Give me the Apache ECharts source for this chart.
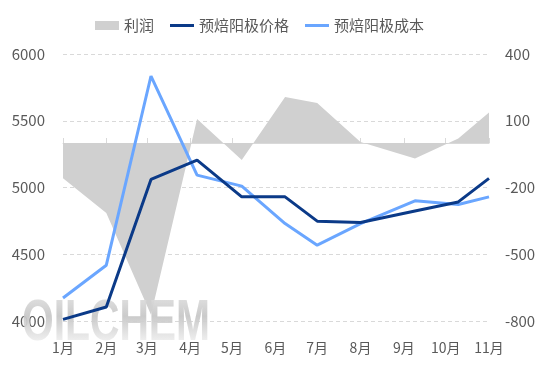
<!DOCTYPE html>
<html><head><meta charset="utf-8">
<script src="https://cdn.jsdelivr.net/npm/echarts@6/dist/echarts.min.js"></script>
<style>html,body{margin:0;padding:0;background:#fff}#c{width:554px;height:369px}</style>
</head><body><div id="c"></div>
<script>
const dates = ['2024-01-01','2024-02-01','2024-03-04','2024-04-06','2024-05-08','2024-06-08','2024-07-01','2024-08-01','2024-09-09','2024-10-10','2024-11-01'];
const price = [4012, 4105, 5060, 5205, 4930, 4930, 4748, 4738, 4824, 4892, 5068];
const cost  = [4172, 4418, 5835, 5093, 5010, 4730, 4568, 4730, 4900, 4873, 4930];
const profit = [-158, -315, -772, 108, -76, 207, 180, 4, -70, 20, 137];
const xRange = ['2024-01-01', '2024-11-01'];
const leftTicks = {min: 4000, max: 6000, interval: 500};
const rightTicks = {min: -800, max: 400, interval: 300};
const names = ['利润', '预焙阳极价格', '预焙阳极成本'];
const watermark = 'OILCHEM';

const DAY = 86400000;
const font = '"Noto Sans CJK SC", "Noto Sans", sans-serif';
const txt = '#595959';
const lineIcon = 'path://M0,0L24,0L24,3L0,3Z';
const svg = '<svg xmlns="http://www.w3.org/2000/svg" width="200" height="60">' +
  '<defs><linearGradient id="g" x1="0" y1="0" x2="0" y2="1">' +
  '<stop offset="0" stop-color="#e8e8e8"/><stop offset="0.45" stop-color="#c6c6c6"/>' +
  '<stop offset="1" stop-color="#ffffff"/></linearGradient></defs>' +
  '<text x="0" y="50" font-family="Liberation Sans, Arial, sans-serif" font-weight="bold" font-size="58" ' +
  'textLength="188" lengthAdjust="spacingAndGlyphs" fill="url(#g)" fill-opacity="0.92">' + watermark + '</text></svg>';
const chart = echarts.init(document.getElementById('c'), null, {renderer: 'canvas'});
chart.setOption({
  animation: false,
  grid: {left: 63, right: 65, top: 54, bottom: 48, containLabel: false},
  legend: {
    left: 90, top: 13, itemGap: 16, itemWidth: 24, itemHeight: 9,
    textStyle: {color: txt, fontSize: 15, fontFamily: font},
    data: [{name: names[0], icon: 'rect'}, {name: names[1], icon: lineIcon}, {name: names[2], icon: lineIcon}]
  },
  xAxis: {
    type: 'time',
    min: xRange[0], max: xRange[1], splitNumber: 10,
    minInterval: 28 * DAY, maxInterval: 31 * DAY,
    axisLine: {lineStyle: {color: '#d9d9d9', width: 1}},
    axisTick: {show: true, inside: true, length: 5, lineStyle: {color: '#d9d9d9'}},
    axisLabel: {
      color: txt, fontSize: 14, fontFamily: font, margin: 20, hideOverlap: false,
      showMinLabel: true, showMaxLabel: true,
      formatter: v => (new Date(v).getMonth() + 1) + '月'
    },
    splitLine: {show: false}
  },
  yAxis: [{
    type: 'value', min: leftTicks.min, max: leftTicks.max, interval: leftTicks.interval,
    axisLine: {show: false}, axisTick: {show: false},
    axisLabel: {color: txt, fontSize: 15, fontFamily: font, margin: 18, formatter: v => String(v)},
    splitLine: {lineStyle: {color: '#d9d9d9', type: [4, 3]}}
  }, {
    type: 'value', min: rightTicks.min, max: rightTicks.max, interval: rightTicks.interval,
    axisLine: {show: false}, axisTick: {show: false},
    axisLabel: {color: txt, fontSize: 15, fontFamily: font, margin: 16, formatter: v => String(v)},
    splitLine: {show: false}
  }],
  graphic: [{
    type: 'image', x: 22, y: 290, z: 3, silent: true,
    style: {image: 'data:image/svg+xml;charset=utf-8,' + encodeURIComponent(svg), x: 0, y: 0, width: 200, height: 60}
  }],
  series: [{
    name: names[0], type: 'line', yAxisIndex: 1, z: 1,
    data: dates.map((d, i) => [d, profit[i]]),
    symbol: 'none', lineStyle: {width: 0, color: '#d0d0d0'}, itemStyle: {color: '#d0d0d0'},
    areaStyle: {color: '#d0d0d0', opacity: 1, origin: 'auto'}
  }, {
    name: names[1], type: 'line', yAxisIndex: 0, z: 6,
    data: dates.map((d, i) => [d, price[i]]),
    symbol: 'none', lineStyle: {width: 3, color: '#0b3a88'}, itemStyle: {color: '#0b3a88'}
  }, {
    name: names[2], type: 'line', yAxisIndex: 0, z: 5,
    data: dates.map((d, i) => [d, cost[i]]),
    symbol: 'none', lineStyle: {width: 3, color: '#6aa6ff'}, itemStyle: {color: '#6aa6ff'}
  }]
});
</script></body></html>
